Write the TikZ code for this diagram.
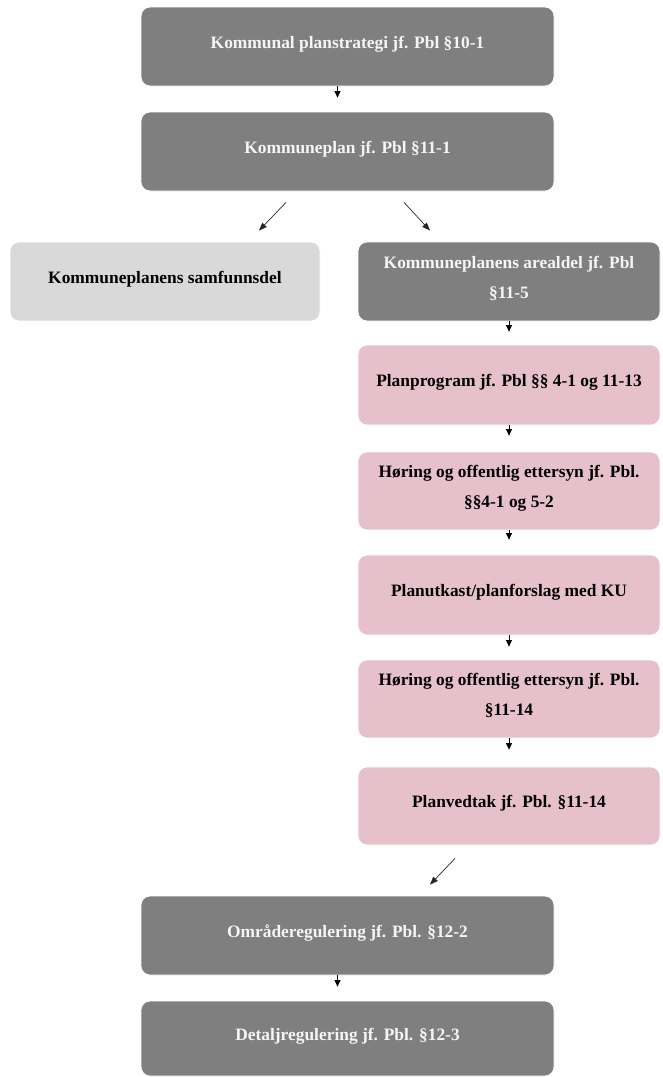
\documentclass[tikz,border=0pt]{standalone}
\usepackage{fontspec}
\setmainfont{Liberation Serif}
\usetikzlibrary{arrows.meta}
\definecolor{boxdark}{RGB}{127,127,127}
\definecolor{boxlight}{RGB}{217,217,217}
\definecolor{boxpink}{RGB}{230,192,203}
\definecolor{textlight}{RGB}{245,245,245}
\tikzset{
  stage/.style={rounded corners=9pt, draw=white, line width=0.8pt, inner sep=0pt,
    align=center, text depth=9pt, font=\bfseries\fontsize{17.4}{30}\selectfont},
  darkstage/.style={stage, fill=boxdark, text=textlight},
  lightstage/.style={stage, fill=boxlight, text=black},
  pinkstage/.style={stage, fill=boxpink, text=black},
  wide/.style={minimum width=413pt},
  narrow/.style={minimum width=302pt},
  stepto/.style={-{Triangle[width=6pt,length=6.5pt]}, line width=0.8pt, black},
  branch/.style={-{Triangle[width=6pt,length=8pt]}, line width=0.7pt, black!85},
}
\begin{document}
\begin{tikzpicture}[x=1pt,y=-1pt]
\useasboundingbox (0,0) rectangle (662,1077);

% central column
\node[darkstage, wide, minimum height=79pt] (b1) at (347.5,46.5) {Kommunal planstrategi jf. Pbl §10-1};
\node[darkstage, wide, minimum height=79pt] (b2) at (347.5,151.5) {Kommuneplan jf. Pbl §11-1};

% the two parts of the municipal plan
\node[lightstage, minimum width=310pt, minimum height=79pt] (ks) at (165,281.5) {Kommuneplanens samfunnsdel};
\node[darkstage, narrow, minimum height=79pt] (ka) at (509,281.5) {Kommuneplanens arealdel jf. Pbl\\§11-5};

% land-use plan process
\node[pinkstage, narrow, minimum height=80pt] (pp) at (509,385) {Planprogram jf. Pbl §§ 4-1 og 11-13};
\node[pinkstage, narrow, minimum height=78pt] (h1) at (509,491) {Høring og offentlig ettersyn jf. Pbl.\\§§4-1 og 5-2};
\node[pinkstage, narrow, minimum height=80pt] (pu) at (509,595) {Planutkast/planforslag med KU};
\node[pinkstage, narrow, minimum height=78pt] (h2) at (509,699) {Høring og offentlig ettersyn jf. Pbl.\\§11-14};
\node[pinkstage, narrow, minimum height=78pt] (pv) at (509,806) {Planvedtak jf. Pbl. §11-14};

% zoning plans
\node[darkstage, wide, minimum height=79pt] (om) at (347.5,935.5) {Områderegulering jf. Pbl. §12-2};
\node[darkstage, wide, minimum height=75pt] (de) at (347.5,1038.5) {Detaljregulering jf. Pbl. §12-3};

% connectors
\draw[stepto, shorten >=14pt] ([xshift=-10pt]b1.south) -- ([xshift=-10pt]b2.north);
\draw[branch] ([shift={(-61.5,11)}]b2.south) -- ([shift={(94,-11)}]ks.north);
\draw[branch] ([shift={(56.5,11)}]b2.south) -- ([shift={(-79,-11)}]ka.north);
\draw[stepto, shorten >=13pt] (ka.south) -- (pp.north);
\draw[stepto, shorten >=16pt] (pp.south) -- (h1.north);
\draw[stepto, shorten >=15pt] (h1.south) -- (pu.north);
\draw[stepto, shorten >=13pt] (pu.south) -- (h2.north);
\draw[stepto, shorten >=17pt] (h2.south) -- (pv.north);
\draw[branch] ([shift={(-54,13)}]pv.south) -- ([shift={(82.5,-11)}]om.north);
\draw[stepto, shorten >=14pt] ([xshift=-10pt]om.south) -- ([xshift=-10pt]de.north);
\end{tikzpicture}
\end{document}
